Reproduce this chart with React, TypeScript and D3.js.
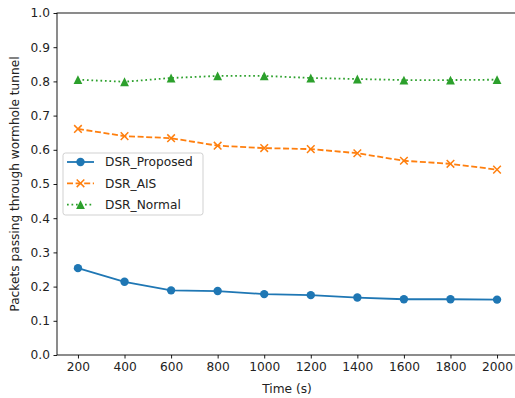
import { useRef, useEffect } from 'react';
import * as d3 from 'd3';

const times = [200, 400, 600, 800, 1000, 1200, 1400, 1600, 1800, 2000];
const dsrProposed = [0.254, 0.214, 0.189, 0.187, 0.178, 0.175, 0.168, 0.163, 0.163, 0.162];
const dsrAIS = [0.661, 0.64, 0.634, 0.612, 0.605, 0.602, 0.59, 0.568, 0.559, 0.542];
const dsrNormal = [0.805, 0.799, 0.81, 0.816, 0.816, 0.81, 0.807, 0.804, 0.804, 0.805];
const yTicks = [0, 0.1, 0.2, 0.3, 0.4, 0.5, 0.6, 0.7, 0.8, 0.9, 1.0];

const WIDTH = 515;
const HEIGHT = 398;
const MARGIN = { top: 13, left: 57, right: -3, bottom: 43 };
const FONT = 'DejaVu Sans, sans-serif';
const FS = '12.2px';

type Series = { name: string; values: number[]; color: string; dash: string | null; marker: 'circle' | 'x' | 'triangle' };

const series: Series[] = [
  { name: 'DSR_Proposed', values: dsrProposed, color: '#1f77b4', dash: null, marker: 'circle' },
  { name: 'DSR_AIS', values: dsrAIS, color: '#ff7f0e', dash: '6,2.6', marker: 'x' },
  { name: 'DSR_Normal', values: dsrNormal, color: '#2ca02c', dash: '1.7,2.8', marker: 'triangle' },
];

function drawMarker(g: d3.Selection<SVGGElement, unknown, null, undefined>, s: Series, cx: number, cy: number) {
  if (s.marker === 'circle') {
    g.append('circle').attr('cx', cx).attr('cy', cy).attr('r', 4.2).attr('fill', s.color);
  } else if (s.marker === 'x') {
    const r = 3.8;
    g.append('path')
      .attr('d', `M${cx - r},${cy - r}L${cx + r},${cy + r}M${cx - r},${cy + r}L${cx + r},${cy - r}`)
      .attr('stroke', s.color).attr('stroke-width', 1.5).attr('fill', 'none');
  } else {
    const r = 4.4;
    g.append('path')
      .attr('d', `M${cx},${cy - r}L${cx - r},${cy + r}L${cx + r},${cy + r}Z`)
      .attr('fill', s.color);
  }
}

export default function App() {
  const svgRef = useRef<SVGSVGElement>(null);

  useEffect(() => {
    if (!svgRef.current) return;
    const svg = d3.select(svgRef.current);
    svg.selectAll('*').remove();

    const iW = WIDTH - MARGIN.left - MARGIN.right;
    const iH = HEIGHT - MARGIN.top - MARGIN.bottom;
    const g = svg.append('g').attr('transform', `translate(${MARGIN.left},${MARGIN.top})`);

    const x = d3.scaleLinear().domain([110, 2090]).range([0, iW]);
    const y = d3.scaleLinear().domain([0, 1]).range([iH, 0]);

    // Axes frame (right spine falls off the canvas)
    g.append('rect')
      .attr('x', 0).attr('y', 0).attr('width', iW).attr('height', iH)
      .attr('fill', 'none').attr('stroke', '#000').attr('stroke-width', 0.9);

    // X axis
    const xAxis = g.append('g')
      .attr('transform', `translate(0,${iH})`)
      .call(d3.axisBottom(x).tickValues(times).tickSize(3.5).tickPadding(3.5).tickFormat((d) => String(d)));
    xAxis.select('.domain').remove();
    xAxis.selectAll('text').attr('font-size', FS).attr('font-family', FONT).attr('fill', '#222');
    xAxis.selectAll('line').attr('stroke-width', 0.9);

    // Y axis
    const yAxis = g.append('g')
      .call(d3.axisLeft(y).tickValues(yTicks).tickSize(3.5).tickPadding(3.5).tickFormat(d3.format('.1f')));
    yAxis.select('.domain').remove();
    yAxis.selectAll('text').attr('font-size', FS).attr('font-family', FONT).attr('fill', '#222');
    yAxis.selectAll('line').attr('stroke-width', 0.9);

    // Labels
    svg.append('text')
      .attr('x', 287).attr('y', 393)
      .attr('text-anchor', 'middle')
      .attr('font-size', FS).attr('font-family', FONT).attr('fill', '#222')
      .text('Time (s)');
    svg.append('text')
      .attr('transform', `translate(19,${MARGIN.top + iH / 2}) rotate(-90)`)
      .attr('text-anchor', 'middle')
      .attr('font-size', FS).attr('font-family', FONT).attr('fill', '#222')
      .text('Packets passing through wormhole tunnel');

    // Lines + markers
    series.forEach((s) => {
      const line = d3.line<number>()
        .x((_, i) => x(times[i]))
        .y((d) => y(d));
      const path = g.append('path')
        .datum(s.values)
        .attr('fill', 'none')
        .attr('stroke', s.color)
        .attr('stroke-width', 1.8)
        .attr('d', line);
      if (s.dash) path.attr('stroke-dasharray', s.dash);
      const mg = g.append('g');
      s.values.forEach((v, i) => drawMarker(mg, s, x(times[i]), y(v)));
    });

    // Legend
    const lg = svg.append('g').attr('transform', 'translate(63,153)');
    lg.append('rect')
      .attr('x', 0).attr('y', 0).attr('width', 140).attr('height', 62)
      .attr('rx', 2.5)
      .attr('fill', '#fff').attr('fill-opacity', 0.8)
      .attr('stroke', '#ccc').attr('stroke-width', 0.9);
    series.forEach((s, i) => {
      const cy = 9 + i * 21.3;
      const item = lg.append('g');
      const l = item.append('line')
        .attr('x1', 4).attr('x2', 31).attr('y1', cy).attr('y2', cy)
        .attr('stroke', s.color).attr('stroke-width', 1.8);
      if (s.dash) l.attr('stroke-dasharray', s.dash);
      drawMarker(item, s, 17.5, cy);
      item.append('text')
        .attr('x', 42).attr('y', cy)
        .attr('dy', '0.36em')
        .attr('font-size', FS).attr('font-family', FONT).attr('fill', '#222')
        .text(s.name);
    });
  }, []);

  return (
    <svg
      ref={svgRef}
      width={WIDTH}
      height={HEIGHT}
      style={{ position: 'absolute', left: 0, top: 0, background: '#fff' }}
    />
  );
}
